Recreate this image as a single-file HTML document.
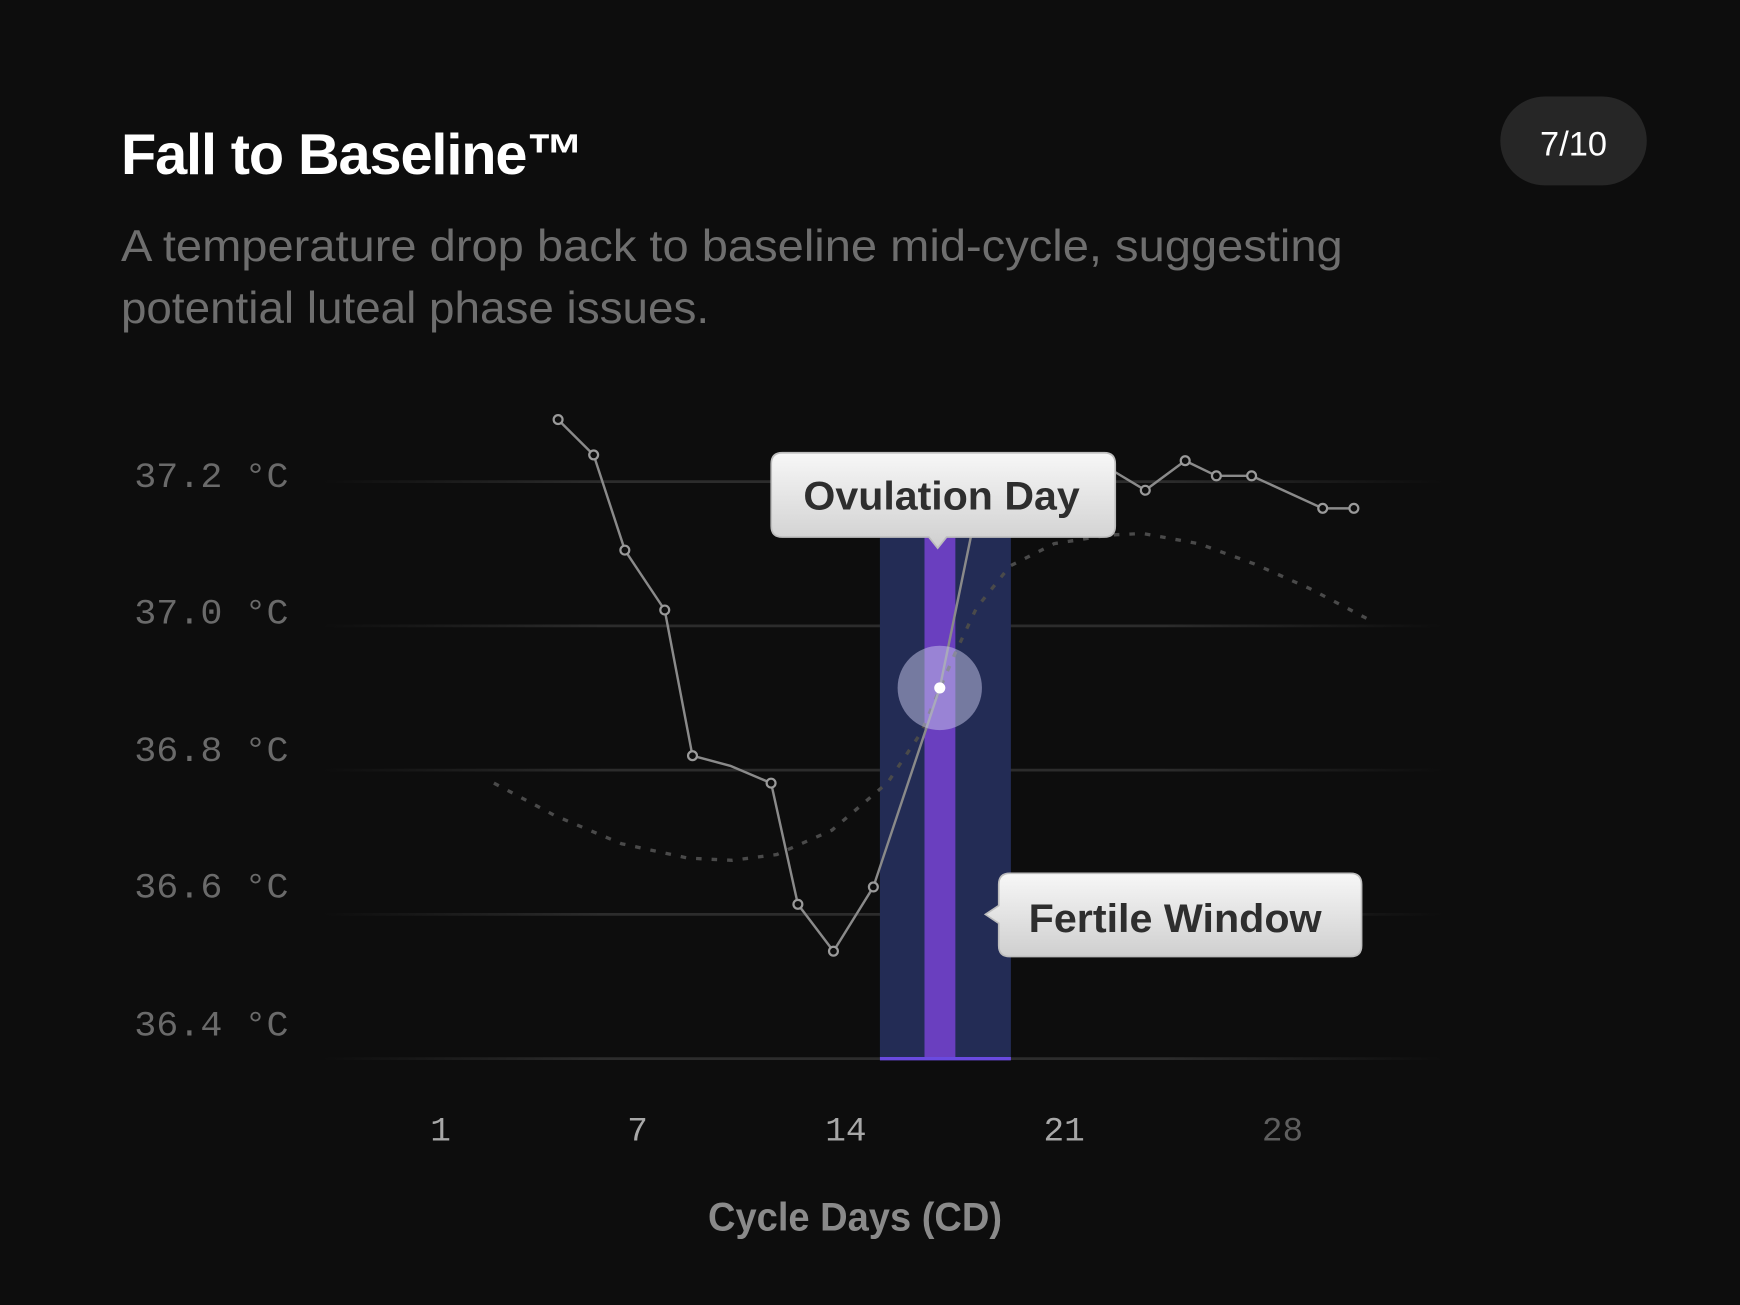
<!DOCTYPE html>
<html><head><meta charset="utf-8">
<style>
html,body{margin:0;padding:0;background:#0d0d0d;}
svg{display:block;}
</style></head>
<body>
<svg id="chart" width="1740" height="1305" viewBox="0 0 1568 1176" xmlns="http://www.w3.org/2000/svg">
<defs>
<linearGradient id="gridFade" gradientUnits="userSpaceOnUse" x1="290" x2="1300" y1="0" y2="0">
<stop offset="0" stop-color="#2c2c2c" stop-opacity="0"/>
<stop offset="0.25" stop-color="#2c2c2c"/>
<stop offset="0.75" stop-color="#2c2c2c"/>
<stop offset="1" stop-color="#2c2c2c" stop-opacity="0"/>
</linearGradient>
<linearGradient id="tipGrad" x1="0" x2="0" y1="0" y2="1">
<stop offset="0" stop-color="#f7f7f7"/>
<stop offset="1" stop-color="#cfcfcf"/>
</linearGradient>
</defs>
<rect x="0" y="0" width="1568" height="1176" fill="#0d0d0d"/>
<text x="109" y="157" fill="#ffffff" font-family="Liberation Sans, sans-serif" font-size="52" font-weight="bold" letter-spacing="-1">Fall to Baseline™</text>
<text font-family="Liberation Sans, sans-serif" font-size="40" fill="#6e6e6e"><tspan x="109" y="235" textLength="1101" lengthAdjust="spacingAndGlyphs">A temperature drop back to baseline mid-cycle, suggesting</tspan><tspan x="109" y="291" textLength="530" lengthAdjust="spacingAndGlyphs">potential luteal phase issues.</tspan></text>
<rect x="1352" y="87" width="132" height="80" rx="40" fill="#262626"/>
<text x="1418" y="140" fill="#ffffff" text-anchor="middle" font-family="Liberation Sans, sans-serif" font-size="31">7/10</text>
<g id="grid"></g>
<g id="bands"></g>
<g id="trend"></g>
<g id="series"></g>
<g id="axes"></g>
<g id="tips">
<g>
<path d="M705,408 H995 Q1005,408 1005,418 V474 Q1005,484 995,484 H853 L845,494 L837,484 H705 Q695,484 695,474 V418 Q695,408 705,408 Z" fill="url(#tipGrad)" stroke="#bdbdbd" stroke-width="1.5"/>
<text x="724" y="459" fill="#2e2e2e" font-family="Liberation Sans, sans-serif" font-size="36" font-weight="bold" textLength="249" lengthAdjust="spacingAndGlyphs">Ovulation Day</text>
</g>
<g>
<path d="M910,787 H1217 Q1227,787 1227,797 V852 Q1227,862 1217,862 H910 Q900,862 900,852 V832 L888,824 L900,816 V797 Q900,787 910,787 Z" fill="url(#tipGrad)" stroke="#bdbdbd" stroke-width="1.5"/>
<text x="927" y="840" fill="#2e2e2e" font-family="Liberation Sans, sans-serif" font-size="36" font-weight="bold" textLength="264" lengthAdjust="spacingAndGlyphs">Fertile Window</text>
</g>
</g>
</svg>
<script>
const tempTicks = [37.2, 37.0, 36.8, 36.6, 36.4];
const tempTickLabels = ["37.2 °C", "37.0 °C", "36.8 °C", "36.6 °C", "36.4 °C"];
const dayTicks = [1, 7, 14, 21, 28];
const dayTickLabels = ["1", "7", "14", "21", "28"];
const bbtDays = [4.77, 5.91, 6.91, 8.19, 9.08, 10.29, 11.6, 12.46, 13.6, 14.88, 17.01, 18.0, 19.1, 21.0, 22.6, 23.6, 24.88, 25.88, 27.01, 29.29, 30.29];
const bbtTemps = [37.286, 37.237, 37.105, 37.022, 36.82, 36.806, 36.782, 36.614, 36.549, 36.638, 36.914, 37.122, 37.229, 37.237, 37.214, 37.188, 37.229, 37.208, 37.208, 37.163, 37.163];
const bbtMarked = [1,1,1,1,1,0,1,1,1,1,0,0,0,0,0,1,1,1,1,1,1];
const trendDays = [2.71, 4.67, 6.80, 8.94, 10.36, 11.78, 13.56, 15.34, 16.41, 17.48, 18.19, 19.26, 20.68, 22.46, 23.53, 25.31, 27.09, 28.86, 30.89];
const trendTemps = [36.782, 36.737, 36.698, 36.678, 36.675, 36.683, 36.717, 36.783, 36.852, 36.960, 37.025, 37.083, 37.114, 37.126, 37.128, 37.114, 37.086, 37.052, 37.006];
const fertileWindow = [15.09, 19.29];
const ovulationRange = [16.52, 17.51];
const ovulationDay = 17.01;
const ovulationTemp = 36.914;

const NS = "http://www.w3.org/2000/svg";
function xS(d){ return 397 + (d - 1) * 28.1; }
function yS(t){ return 434 + (37.2 - t) / 0.2 * 130; }
function mk(tag, attrs, parent){ const e = document.createElementNS(NS, tag); for (const k in attrs) e.setAttribute(k, attrs[k]); parent.appendChild(e); return e; }

const grid = document.getElementById('grid');
const axes = document.getElementById('axes');
const labelOffsets = [-6, -13, -19, -26, -32];
tempTicks.forEach((t, i) => {
  const ln = mk('line', {x1: 290, x2: 1300, y1: yS(t), y2: yS(t), stroke: 'url(#gridFade)', 'stroke-width': 2.5}, grid);
  
  
  const tx = mk('text', {x: 121, y: yS(t) + labelOffsets[i] + 11, fill: '#6a6a6a', 'font-family': 'Liberation Mono, monospace', 'font-size': 32, textLength: 139, lengthAdjust: 'spacingAndGlyphs'}, axes);
  tx.textContent = tempTickLabels[i];
  
  
});
const xPosAdj = [0, 9, 0, 0, 0];
dayTicks.forEach((d, i) => {
  const tx = mk('text', {x: xS(d) + xPosAdj[i], y: 1028, 'text-anchor': 'middle', fill: i === 4 ? '#5e5e5e' : '#a8a8a8', 'font-family': 'Liberation Mono, monospace', 'font-size': 31}, axes);
  tx.textContent = dayTickLabels[i];
  
  
});
const xt = mk('text', {x: 638, y: 1109, fill: '#8a8a8a', 'font-family': 'Liberation Sans, sans-serif', 'font-size': 36, 'font-weight': 'bold', textLength: 265, lengthAdjust: 'spacingAndGlyphs'}, axes);
xt.textContent = 'Cycle Days (CD)';



const bands = document.getElementById('bands');
const yBottom = yS(36.4);
const fw = mk('rect', {x: xS(fertileWindow[0]), y: 470, width: xS(fertileWindow[1]) - xS(fertileWindow[0]), height: yBottom - 470, fill: '#232c55'}, bands);


const ov = mk('rect', {x: xS(ovulationRange[0]), y: 470, width: xS(ovulationRange[1]) - xS(ovulationRange[0]), height: yBottom - 470, fill: '#6a3fbf'}, bands);


const bl = mk('line', {x1: xS(fertileWindow[0]), x2: xS(fertileWindow[1]), y1: yBottom, y2: yBottom, stroke: '#6a4ae0', 'stroke-width': 3}, bands);



const trend = document.getElementById('trend');
let td = '';
trendDays.forEach((d, i) => { td += (i ? ' L' : 'M') + xS(d).toFixed(1) + ',' + yS(trendTemps[i]).toFixed(1); });
const tp = mk('path', {d: td, fill: 'none', stroke: '#4a4a4a', 'stroke-width': 3, 'stroke-dasharray': '5 9', 'stroke-linejoin': 'round'}, trend);



const series = document.getElementById('series');
let sd = '';
bbtDays.forEach((d, i) => { sd += (i ? ' L' : 'M') + xS(d).toFixed(1) + ',' + yS(bbtTemps[i]).toFixed(1); });
const sp = mk('path', {d: sd, fill: 'none', stroke: '#8a8a8a', 'stroke-width': 2.2, 'stroke-linejoin': 'round'}, series);


bbtDays.forEach((d, i) => {
  if (!bbtMarked[i]) return;
  const c = mk('circle', {cx: xS(d), cy: yS(bbtTemps[i]), r: 4, fill: '#0d0d0d', stroke: '#9a9a9a', 'stroke-width': 2}, series);
  
  
});
const halo = mk('circle', {cx: xS(ovulationDay), cy: yS(ovulationTemp), r: 38, fill: 'rgba(200,200,235,0.5)'}, series);


const dot = mk('circle', {cx: xS(ovulationDay), cy: yS(ovulationTemp), r: 5, fill: '#ffffff'}, series);


</script>
</body></html>
